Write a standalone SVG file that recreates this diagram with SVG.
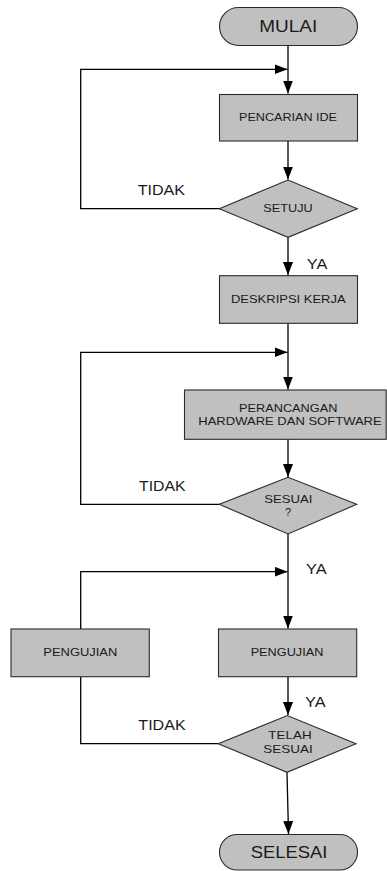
<svg xmlns="http://www.w3.org/2000/svg" width="387" height="871" viewBox="0 0 387 871">
  <style>
    .shape { fill: #c0c0c0; stroke: #2a2a2a; stroke-width: 1.1; }
    .line { fill: none; stroke: #000; stroke-width: 1.3; }
    text { font-family: "Liberation Sans", Arial, sans-serif; fill: #1a1a1a; text-anchor: middle; }
    .big { font-size: 16.5px; }
    .mid { font-size: 14px; }
    .small { font-size: 11px; }
    .lbl { text-anchor: start; }
  </style>
  <defs>
    <marker id="arrow" markerUnits="userSpaceOnUse" markerWidth="14" markerHeight="11" refX="13" refY="5" orient="auto">
      <path d="M0,0 L13,5 L0,10 Z" fill="#000"/>
    </marker>
  </defs>
  <rect width="387" height="871" fill="#fff"/>

  <!-- flow lines -->
  <g id="connectors">
    <path class="line" d="M288,46 V93.5" marker-end="url(#arrow)"/>
    <path class="line" d="M219.5,208.7 H80.7 V69.3 H287.5" marker-end="url(#arrow)"/>
    <path class="line" d="M288,141 V179.5" marker-end="url(#arrow)"/>
    <path class="line" d="M288,237.3 V275" marker-end="url(#arrow)"/>
    <path class="line" d="M288,323.3 V389.5" marker-end="url(#arrow)"/>
    <path class="line" d="M219.5,504.3 H80.7 V352.3 H287.5" marker-end="url(#arrow)"/>
    <path class="line" d="M288,439.3 V477" marker-end="url(#arrow)"/>
    <path class="line" d="M288,534 V628.5" marker-end="url(#arrow)"/>
    <path class="line" d="M218.5,743.7 H80.7 V676.7"/>
    <path class="line" d="M80.7,629 V571.7 H287.5" marker-end="url(#arrow)"/>
    <path class="line" d="M288,676.7 V715" marker-end="url(#arrow)"/>
    <path class="line" d="M287,772.3 L288.5,834" marker-end="url(#arrow)"/>
    <text class="mid lbl" x="137.7" y="195" textLength="47.3" lengthAdjust="spacingAndGlyphs">TIDAK</text>
    <text class="mid lbl" x="306.7" y="269" textLength="20.6" lengthAdjust="spacingAndGlyphs">YA</text>
    <text class="mid lbl" x="139" y="490.7" textLength="46.7" lengthAdjust="spacingAndGlyphs">TIDAK</text>
    <text class="mid lbl" x="306" y="574" textLength="20.6" lengthAdjust="spacingAndGlyphs">YA</text>
    <text class="mid lbl" x="305" y="706.7" textLength="20.6" lengthAdjust="spacingAndGlyphs">YA</text>
    <text class="mid lbl" x="138.3" y="730" textLength="47.4" lengthAdjust="spacingAndGlyphs">TIDAK</text>
  </g>

  <g id="mulai">
    <rect class="shape" x="219.5" y="7.5" width="138" height="38" rx="19" ry="19"/>
    <text class="big" x="288.3" y="32.3" textLength="58" lengthAdjust="spacingAndGlyphs">MULAI</text>
  </g>

  <g id="pencarian-ide">
    <rect class="shape" x="219.5" y="94.5" width="138" height="46.5"/>
    <text class="small" x="288" y="121" textLength="98" lengthAdjust="spacingAndGlyphs">PENCARIAN IDE</text>
  </g>

  <g id="setuju">
    <polygon class="shape" points="219.3,208.7 288,180 357.3,208.7 288,237.3"/>
    <text class="small" x="288" y="212.3" textLength="49.4" lengthAdjust="spacingAndGlyphs">SETUJU</text>
  </g>

  <g id="deskripsi-kerja">
    <rect class="shape" x="219.5" y="275.7" width="138" height="47.6"/>
    <text class="small" x="288.3" y="302.7" textLength="114.7" lengthAdjust="spacingAndGlyphs">DESKRIPSI KERJA</text>
  </g>

  <g id="perancangan">
    <rect class="shape" x="184.5" y="390" width="201.7" height="49.3"/>
    <text class="small" x="288.2" y="412.3" textLength="98.3" lengthAdjust="spacingAndGlyphs">PERANCANGAN</text>
    <text class="small" x="290" y="424.5" textLength="183.4" lengthAdjust="spacingAndGlyphs">HARDWARE DAN SOFTWARE</text>
  </g>

  <g id="sesuai">
    <polygon class="shape" points="219.3,504.3 288,477.3 356.7,504.3 288,534"/>
    <text class="small" x="288.3" y="503.3" textLength="48" lengthAdjust="spacingAndGlyphs">SESUAI</text>
    <text class="small" x="288" y="516">?</text>
  </g>

  <g id="pengujian-kiri">
    <rect class="shape" x="11" y="629" width="138.3" height="47.7"/>
    <text class="small" x="80.3" y="655.7" textLength="74" lengthAdjust="spacingAndGlyphs">PENGUJIAN</text>
  </g>

  <g id="pengujian">
    <rect class="shape" x="218.5" y="629" width="138.2" height="47.7"/>
    <text class="small" x="287" y="655.7" textLength="72.7" lengthAdjust="spacingAndGlyphs">PENGUJIAN</text>
  </g>

  <g id="telah-sesuai">
    <polygon class="shape" points="218.3,743.7 287.3,715.5 356,743.7 287,772.3"/>
    <text class="small" x="290" y="739" textLength="43.3" lengthAdjust="spacingAndGlyphs">TELAH</text>
    <text class="small" x="288" y="752.7" textLength="49.3" lengthAdjust="spacingAndGlyphs">SESUAI</text>
  </g>

  <g id="selesai">
    <rect class="shape" x="219.5" y="834.5" width="138" height="35.5" rx="17.75" ry="17.75"/>
    <text class="big" x="289" y="858.3" textLength="76.6" lengthAdjust="spacingAndGlyphs">SELESAI</text>
  </g>
</svg>
